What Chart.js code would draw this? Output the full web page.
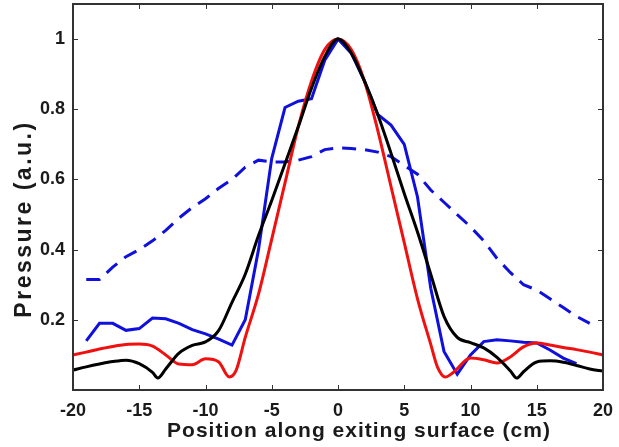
<!DOCTYPE html>
<html>
<head>
<meta charset="utf-8">
<script src="https://cdn.jsdelivr.net/npm/chart.js@4.4.1/dist/chart.umd.min.js"></script>
<style>
  html, body { margin: 0; padding: 0; background: #fff; }
  #wrap { width: 619px; height: 447px; }
</style>
</head>
<body>
<div id="wrap"><canvas id="pressureChart"></canvas></div>
<script>
// Pressure profiles along the exiting surface

var xTicks = [-20, -15, -10, -5, 0, 5, 10, 15, 20];
var yTicks = [0.2, 0.4, 0.6, 0.8, 1];
var yTickLabels = ['0.2', '0.4', '0.6', '0.8', '1'];
var xTitle = 'Position along exiting surface (cm)';
var yTitle = 'Pressure (a.u.)';

var blackPos = [-20, -19, -18, -17, -16, -15, -14, -13.6, -13, -12, -11, -10, -9, -8, -7, -6, -5, -4, -3, -2, -1, 0,
    1, 2, 3, 4, 5, 6, 7, 8, 9, 10, 11, 12, 13, 13.5, 14, 15, 16, 17, 18, 19, 20];
var blackVals = [0.057, 0.066, 0.074, 0.081, 0.085, 0.075, 0.05, 0.034, 0.06, 0.105, 0.127, 0.137, 0.17, 0.25, 0.33, 0.44, 0.54, 0.645, 0.75, 0.86, 0.95, 1.0,
    0.96, 0.88, 0.785, 0.675, 0.56, 0.45, 0.33, 0.21, 0.15, 0.135, 0.12, 0.093, 0.055, 0.034, 0.052, 0.08, 0.083, 0.079, 0.07, 0.06, 0.054];

var redPos = [-20, -19, -18, -17, -16, -15, -14, -13, -12, -11, -10, -9, -8.2, -7.7, -7, -6, -5, -4, -3, -2, -1, 0,
    1, 2, 3, 4, 5, 6, 7, 7.5, 8.1, 8.7, 10, 11, 12, 13, 14, 15, 16, 17, 18, 19, 20];
var redVals = [0.10, 0.108, 0.117, 0.124, 0.13, 0.131, 0.125, 0.10, 0.074, 0.072, 0.089, 0.08, 0.037, 0.055, 0.15, 0.273, 0.43, 0.59, 0.75, 0.88, 0.97, 1.0,
    0.97, 0.88, 0.74, 0.58, 0.42, 0.26, 0.13, 0.066, 0.037, 0.05, 0.091, 0.086, 0.077, 0.094, 0.123, 0.134, 0.128, 0.121, 0.115, 0.108, 0.10];

var bluePos = [-19, -18, -17, -16, -15, -14, -13, -12, -11, -10, -9, -8, -7, -6, -5, -4, -3, -2, -1, 0,
    1, 2, 3, 4, 5, 6, 7, 8, 9, 10, 11, 12, 13, 14, 15, 16, 17, 18];
var blueVals = [0.14, 0.19, 0.19, 0.17, 0.175, 0.205, 0.203, 0.19, 0.172, 0.16, 0.145, 0.128, 0.2, 0.40, 0.66, 0.805, 0.823, 0.83, 0.94, 1.0,
    0.96, 0.88, 0.785, 0.755, 0.70, 0.55, 0.29, 0.11, 0.045, 0.10, 0.138, 0.143, 0.14, 0.136, 0.134, 0.114, 0.091, 0.075];

var dashPos = [-19, -18, -17, -16, -15, -14, -13, -12, -11, -10, -9, -8, -7, -6, -5, -4, -3, -2, -1, 0,
    1, 2, 3, 4, 5, 6, 7, 8, 9, 10, 11, 12, 13, 14, 15, 16, 17, 18, 19];
var dashVals = [0.315, 0.315, 0.35, 0.38, 0.40, 0.425, 0.455, 0.49, 0.52, 0.545, 0.575, 0.60, 0.635, 0.655, 0.65, 0.65, 0.655, 0.665, 0.685, 0.69,
    0.688, 0.685, 0.678, 0.665, 0.64, 0.615, 0.57, 0.535, 0.50, 0.465, 0.425, 0.375, 0.335, 0.30, 0.285, 0.26, 0.235, 0.21, 0.19];

function points(xs, ys) {
    return xs.map(function (x, i) { return { x: x, y: ys[i] }; });
}

var fontFamily = '"Liberation Sans", Arial, sans-serif';

// box around the plot with inward tick marks on all four sides, plus axis titles
var framePlugin = {
    id: 'frame',
    afterDatasetsDraw: function (chart) {
        var ctx = chart.ctx, a = chart.chartArea;
        var xs = chart.scales.x, ys = chart.scales.y;
        var len = 5;
        ctx.save();
        ctx.strokeStyle = '#333';
        ctx.lineWidth = 1;
        ctx.beginPath();
        xTicks.forEach(function (v) {
            var px = Math.round(xs.getPixelForValue(v)) + 0.5;
            ctx.moveTo(px, a.bottom); ctx.lineTo(px, a.bottom - len);
            ctx.moveTo(px, a.top); ctx.lineTo(px, a.top + len);
        });
        yTicks.forEach(function (v) {
            var py = Math.round(ys.getPixelForValue(v)) + 0.5;
            ctx.moveTo(a.left, py); ctx.lineTo(a.left + len, py);
            ctx.moveTo(a.right, py); ctx.lineTo(a.right - len, py);
        });
        ctx.stroke();
        ctx.lineWidth = 2;
        ctx.strokeRect(a.left, a.top, a.right - a.left, a.bottom - a.top);
        ctx.restore();
    },
    afterDraw: function (chart) {
        var ctx = chart.ctx, a = chart.chartArea;
        ctx.save();
        ctx.fillStyle = '#1a1a1a';
        ctx.textAlign = 'center';
        ctx.textBaseline = 'alphabetic';

        ctx.font = 'bold 21px ' + fontFamily;
        ctx.letterSpacing = '1px';
        ctx.fillText(xTitle, (a.left + a.right) / 2 + 21, 437);

        ctx.font = 'bold 23px ' + fontFamily;
        ctx.letterSpacing = '2.5px';
        ctx.translate(31, 219);
        ctx.rotate(-Math.PI / 2);
        ctx.fillText(yTitle, 0, 0);
        ctx.restore();
    }
};

var ctx = document.getElementById('pressureChart').getContext('2d');

var pressureChart = new Chart(ctx, {
    type: 'line',
    data: {
        datasets: [
            {
                label: 'black',
                data: points(blackPos, blackVals),
                borderColor: '#000000',
                borderWidth: 3,
                cubicInterpolationMode: 'monotone',
                pointRadius: 0
            },
            {
                label: 'red',
                data: points(redPos, redVals),
                borderColor: '#f01010',
                borderWidth: 3,
                cubicInterpolationMode: 'monotone',
                pointRadius: 0
            },
            {
                label: 'blue',
                data: points(bluePos, blueVals),
                borderColor: '#1010dd',
                borderWidth: 3,
                tension: 0,
                pointRadius: 0
            },
            {
                label: 'blue dashed',
                data: points(dashPos, dashVals),
                borderColor: '#1010dd',
                borderWidth: 3,
                borderDash: [14, 9],
                tension: 0,
                pointRadius: 0
            }
        ]
    },
    options: {
        responsive: true,
        maintainAspectRatio: false,
        animation: false,
        layout: { padding: { top: 4, right: 16, left: 0, bottom: 0 } },
        plugins: {
            legend: { display: false },
            tooltip: { enabled: false }
        },
        scales: {
            x: {
                type: 'linear',
                min: -20,
                max: 20,
                afterBuildTicks: function (scale) {
                    scale.ticks = xTicks.map(function (v) { return { value: v }; });
                },
                afterFit: function (scale) {
                    scale.height = 57;
                    scale.paddingLeft = 0;
                    scale.paddingRight = 0;
                },
                grid: { display: false, drawTicks: false },
                border: { display: false },
                ticks: {
                    padding: 10,
                    color: '#1a1a1a',
                    font: { family: fontFamily, size: 18, weight: 'bold' },
                    maxRotation: 0
                }
            },
            y: {
                min: 0,
                max: 1.1,
                afterBuildTicks: function (scale) {
                    scale.ticks = yTicks.map(function (v) { return { value: v }; });
                },
                afterFit: function (scale) {
                    scale.width = 73;
                    scale.paddingTop = 0;
                    scale.paddingBottom = 0;
                },
                grid: { display: false, drawTicks: false },
                border: { display: false },
                ticks: {
                    padding: 8,
                    color: '#1a1a1a',
                    font: { family: fontFamily, size: 18, weight: 'bold' },
                    callback: function (value) {
                        return yTickLabels[yTicks.indexOf(value)];
                    }
                }
            }
        }
    },
    plugins: [framePlugin]
});
</script>
</body>
</html>
